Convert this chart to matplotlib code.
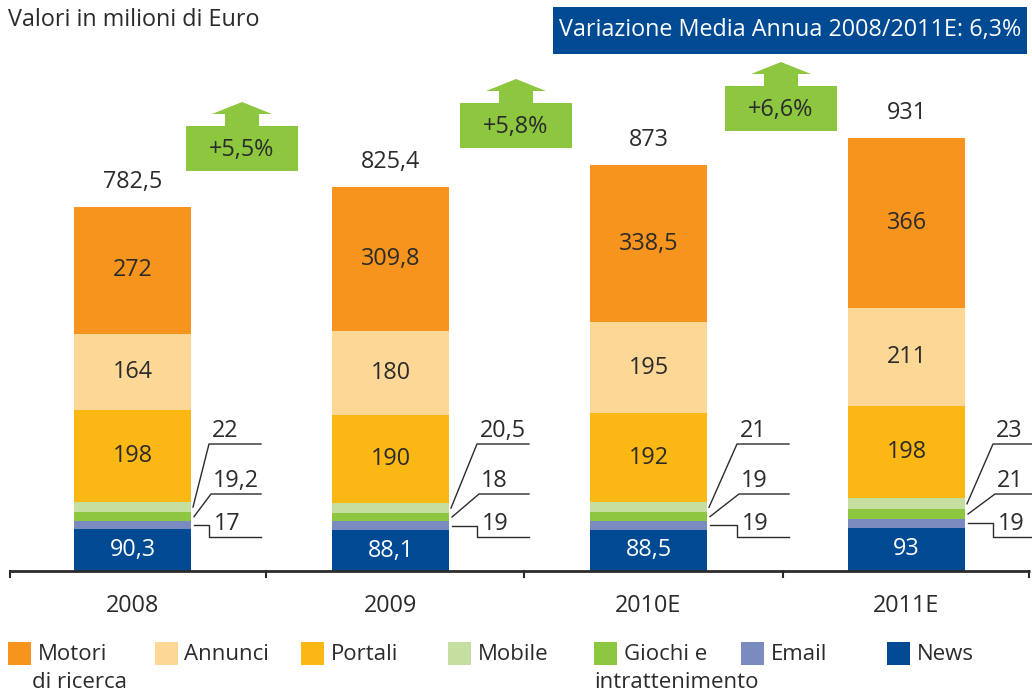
import matplotlib
matplotlib.use("Agg")
import matplotlib.pyplot as plt
from matplotlib.patches import Rectangle, Polygon

years = ["2008", "2009", "2010E", "2011E"]
news = [90.3, 88.1, 88.5, 93]
email = [17, 19, 19, 19]
giochi = [19.2, 18, 19, 21]
mobile = [22, 20.5, 21, 23]
portali = [198, 190, 192, 198]
annunci = [164, 180, 195, 211]
motori = [272, 309.8, 338.5, 366]
totals = [782.5, 825.4, 873, 931]
growth = ["+5,5%", "+5,8%", "+6,6%"]
title = "Variazione Media Annua 2008/2011E: 6,3%"

series = [
    ("News", news, "#004A93"),
    ("Email", email, "#7A8BBF"),
    ("Giochi e\nintrattenimento", giochi, "#8DC63F"),
    ("Mobile", mobile, "#C4DFA0"),
    ("Portali", portali, "#FBB713"),
    ("Annunci", annunci, "#FDD795"),
    ("Motori\ndi ricerca", motori, "#F7941D"),
]

TXT = "#2B2B2B"
plt.rcParams["font.family"] = ["Open Sans", "DejaVu Sans"]
FS = 16.8

W, H = 1032, 692
X0, DX = 132.5, 258.0     # pixel centre of first bar, spacing
Y0, SY = 571.0, 0.465     # pixel y of zero line, px per unit


def px(x):
    return (x - X0) / DX


def py(y):
    return (Y0 - y) / SY


def fmt(v):
    return f"{v:g}".replace(".", ",")


fig = plt.figure(figsize=(W / 100, H / 100), dpi=100)
ax = fig.add_axes([0, 0, 1, 1])
ax.set_xlim(px(0), px(W))
ax.set_ylim(py(H), py(0))
ax.axis("off")

bw = 117 / DX
xs = list(range(len(years)))
bottom = [0.0] * len(years)
for name, vals, col in series:
    ax.bar(xs, vals, bw, bottom=bottom, color=col, linewidth=0, zorder=2)
    for i, v in enumerate(vals):
        mid = bottom[i] + v / 2
        if name in ("News", "Portali", "Annunci") or name.startswith("Motori"):
            ax.text(i, mid, fmt(v), ha="center", va="center", fontsize=FS,
                    color="white" if name == "News" else TXT, zorder=3)
    bottom = [b + v for b, v in zip(bottom, vals)]

# leader lines for the thin segments
offs = [18, 28, 30, 28]
for i in xs:
    right = X0 + i * DX + 117 / 2
    x1 = right + offs[i]
    x2 = min(x1 + 52, W)
    b_em = news[i]
    b_gi = b_em + email[i]
    b_mo = b_gi + giochi[i]
    m_em = b_em + email[i] / 2
    m_gi = b_gi + giochi[i] / 2
    m_mo = b_mo + mobile[i] / 2
    kw = dict(color=TXT, lw=1.0, zorder=3)
    # mobile
    ax.plot([px(right + 2), px(x1), px(x2)], [m_mo, py(444), py(444)], **kw)
    ax.text(px(x1 + 3), py(437), fmt(mobile[i]), ha="left", va="baseline",
            fontsize=FS, color=TXT)
    # giochi
    ax.plot([px(right + 3), px(x1 + 2), px(x2)], [m_gi, py(494), py(494)], **kw)
    ax.text(px(x1 + 4), py(487), fmt(giochi[i]), ha="left", va="baseline",
            fontsize=FS, color=TXT)
    # email
    ax.plot([px(right + 3), px(x1), px(x1), px(x2)],
            [m_em, m_em, py(537), py(537)], **kw)
    ax.text(px(x1 + 5), py(530), fmt(email[i]), ha="left", va="baseline",
            fontsize=FS, color=TXT)

# totals and categories
for i, t in enumerate(totals):
    ax.text(i, t + 25 / SY, fmt(t), ha="center", va="center", fontsize=FS, color=TXT)
    ax.text(i, py(606), years[i], ha="center", va="center", fontsize=FS, color=TXT)

# axis line with ticks
ax.plot([px(10), px(1030)], [0, 0], color=TXT, lw=2, zorder=4, solid_capstyle="butt")
for tx in [10, 266, 524, 783, 1029]:
    ax.plot([px(tx), px(tx)], [0, py(577)], color=TXT, lw=1.5, zorder=4)

# growth arrows
arrows = [(242, 126), (516, 103), (781, 86)]
for (cx, top), g in zip(arrows, growth):
    pts = [(cx - 56, top + 45), (cx + 56, top + 45), (cx + 56, top),
           (cx + 17, top), (cx + 17, top - 12), (cx + 30, top - 12),
           (cx, top - 24), (cx - 30, top - 12), (cx - 17, top - 12),
           (cx - 17, top), (cx - 56, top)]
    ax.add_patch(Polygon([(px(a), py(b)) for a, b in pts], closed=True,
                         facecolor="#8DC63F", edgecolor="none", zorder=3))
    ax.text(px(cx), py(top + 24), g, ha="center", va="center", fontsize=FS,
            color=TXT, zorder=4)

# header texts
fig.text(8 / W, 1 - 20 / H, "Valori in milioni di Euro", ha="left", va="center",
         fontsize=FS, color=TXT)
fig.patches.append(Rectangle((553 / W, 1 - 54 / H), 474 / W, 47 / H,
                             transform=fig.transFigure, facecolor="#004A93",
                             edgecolor="none"))
fig.text(790 / W, 1 - 30 / H, title, ha="center", va="center", fontsize=FS,
         color="white")

# legend
leg_order = [6, 5, 4, 3, 2, 1, 0]
for k, idx in enumerate(leg_order):
    name, _, col = series[idx]
    lx = 8 + k * 146.5
    fig.patches.append(Rectangle((lx / W, 1 - 665 / H), 23 / W, 23 / H,
                                 transform=fig.transFigure, facecolor=col,
                                 edgecolor="none"))
    lines = name.split("\n")
    fig.text((lx + 30) / W, 1 - 654 / H, lines[0], ha="left", va="center",
             fontsize=16, color=TXT)
    if len(lines) > 1:
        x2 = lx + 24 if idx == 6 else lx
        fig.text(x2 / W, 1 - 682 / H, lines[1], ha="left", va="center",
                 fontsize=16, color=TXT)

fig.savefig("out.png", dpi=100)
